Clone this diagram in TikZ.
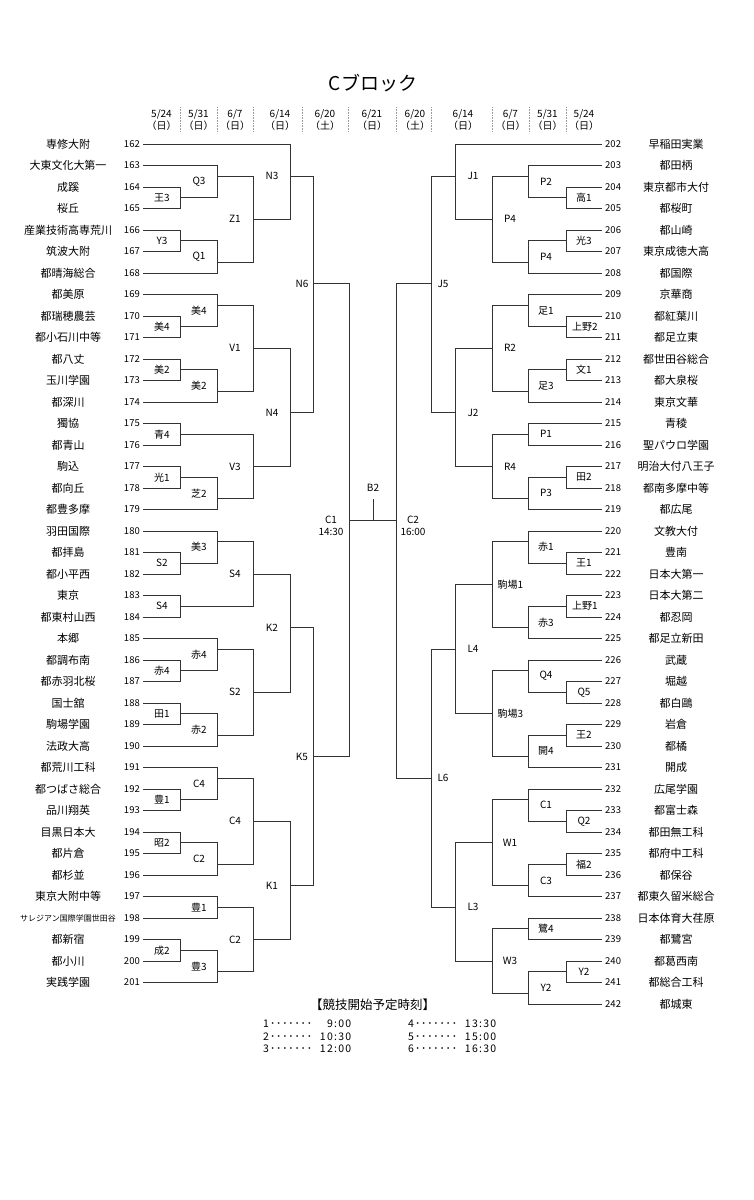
\documentclass[tikz,border=0pt]{standalone}
\usepackage{fontspec}
\setmainfont{Noto Sans CJK JP}
\usetikzlibrary{calc}
\definecolor{linegray}{HTML}{333333}
\definecolor{sepgray}{HTML}{9A9A9A}
\newcommand{\smallname}{\fontsize{8}{9}\selectfont}
\newcommand{\leaderdots}{\makebox[42pt][s]{･\hfil･\hfil･\hfil･\hfil･\hfil･\hfil･}}

\begin{document}
\begin{tikzpicture}[x=1pt, y=-1pt,
    tname/.style={font=\fontsize{11}{13}\selectfont, inner sep=0pt},
    tnum/.style={font=\fontsize{9.5}{11}\selectfont, inner sep=3pt},
    mlabel/.style={font=\fontsize{10}{12.5}\selectfont, inner sep=0pt, align=center},
    brk/.style={draw=linegray, line width=0.9pt},
    datecol/.style={font=\fontsize{10}{12}\selectfont, align=center, inner sep=0pt},
    sep/.style={draw=sepgray, densely dotted, line width=0.6pt},
    ttline/.style={font=\fontsize{10.5}{12}\selectfont\addfontfeature{LetterSpace=12}, inner sep=0pt, anchor=west},
  ]
  \useasboundingbox (0,0) rectangle (754,1200);

  % title
  \node[font=\fontsize{19}{22}\selectfont] (title) at (373,83) {Cブロック};

  % date header
  \foreach \cx/\mon/\dday/\wkd [count=\i] in {161.5/5/24/日, 198.5/5/31/日, 235/6/7/日, 280/6/14/日, 325/6/20/土, 372/6/21/日, 415/6/20/土, 463/6/14/日, 510.5/6/7/日, 547.5/5/31/日, 584/5/24/日}
    \node[datecol] (d\i) at (\cx,120) {\mon/\dday\\（\wkd）};
  \foreach \sx in {180,217,253,302,348,396,431,492,529,566}
    \draw[sep] (\sx,107) -- (\sx,132);

  % teams, left
  \foreach \tn [count=\k from 0] in {専修大附, 大東文化大第一, 成蹊, 桜丘, 産業技術高専荒川, 筑波大附, 都晴海総合, 都美原, 都瑞穂農芸, 都小石川中等, 都八丈, 玉川学園, 都深川, 獨協, 都青山, 駒込, 都向丘, 都豊多摩, 羽田国際, 都拝島, 都小平西, 東京, 都東村山西, 本郷, 都調布南, 都赤羽北桜, 国士舘, 駒場学園, 法政大高, 都荒川工科, 都つばさ総合, 品川翔英, 目黒日本大, 都片倉, 都杉並, 東京大附中等, \smallname サレジアン国際学園世田谷, 都新宿, 都小川, 実践学園} {
    \pgfmathtruncatemacro{\tid}{162+\k}
    \node[tname] (lt\tid) at (68,{144+21.5*\k}) {\tn};
    \node[tnum, anchor=east] (ln\tid) at (143,{144+21.5*\k}) {\tid};
  }

  % teams, right
  \foreach \tn [count=\k from 0] in {早稲田実業, 都田柄, 東京都市大付, 都桜町, 都山崎, 東京成徳大高, 都国際, 京華商, 都紅葉川, 都足立東, 都世田谷総合, 都大泉桜, 東京文華, 青稜, 聖パウロ学園, 明治大付八王子, 都南多摩中等, 都広尾, 文教大付, 豊南, 日本大第一, 日本大第二, 都忍岡, 都足立新田, 武蔵, 堀越, 都白鷗, 岩倉, 都橘, 開成, 広尾学園, 都富士森, 都田無工科, 都府中工科, 都保谷, 都東久留米総合, 日本体育大荏原, 都鷺宮, 都葛西南, 都総合工科, 都城東} {
    \pgfmathtruncatemacro{\tid}{202+\k}
    \node[tname] (rt\tid) at (676,{144+21.5*\k}) {\tn};
    \node[tnum, anchor=west] (rn\tid) at (602,{144+21.5*\k}) {\tid};
  }

  % matches, left
  \foreach \mname/\mx/\mrow/\ca/\cb/\mlab/\lrow/\loff in {
      mWa/180/2.5/ln164.east/ln165.east/王3/2.5/18,
      mYa/180/4.5/ln166.east/ln167.east/Y3/4.5/18,
      mMiA/180/8.5/ln170.east/ln171.east/美4/8.5/18,
      mMiB/180/10.5/ln172.east/ln173.east/美2/10.5/18,
      mAo/180/13.5/ln175.east/ln176.east/青4/13.5/18,
      mHi/180/15.5/ln177.east/ln178.east/光1/15.5/18,
      mSa/180/19.5/ln181.east/ln182.east/S2/19.5/18,
      mSb/180/21.5/ln183.east/ln184.east/S4/21.5/18,
      mAkA/180/24.5/ln186.east/ln187.east/赤4/24.5/18,
      mTa/180/26.5/ln188.east/ln189.east/田1/26.5/18,
      mToA/180/30.5/ln192.east/ln193.east/豊1/30.5/18,
      mSho/180/32.5/ln194.east/ln195.east/昭2/32.5/18,
      mSei/180/37.5/ln199.east/ln200.east/成2/37.5/18,
      mQ3/217/1.5/ln163.east/mWa/Q3/1.75/18,
      mQ1/217/5.5/mYa/ln168.east/Q1/5.25/18,
      mMiC/217/7.5/ln169.east/mMiA/美4/7.75/18,
      mMiD/217/11.5/mMiB/ln174.east/美2/11.25/18,
      mShi/217/16.5/mHi/ln179.east/芝2/16.25/18,
      mMiE/217/18.5/ln180.east/mSa/美3/18.75/18,
      mAkB/217/23.5/ln185.east/mAkA/赤4/23.75/18,
      mAkC/217/27.5/mTa/ln190.east/赤2/27.25/18,
      mCa/217/29.5/ln191.east/mToA/C4/29.75/18,
      mCb/217/33.5/mSho/ln196.east/C2/33.25/18,
      mToB/217/35.5/ln197.east/ln198.east/豊1/35.5/18,
      mToC/217/38.5/mSei/ln201.east/豊3/38.25/18,
      mZ1/253/3.5/mQ3/mQ1/Z1/3.5/18,
      mV1/253/9.5/mMiC/mMiD/V1/9.5/18,
      mV3/253/15/mAo/mShi/V3/15/18,
      mS4/253/20/mMiE/mSb/S4/20/18,
      mS2/253/25.5/mAkB/mAkC/S2/25.5/18,
      mCc/253/31.5/mCa/mCb/C4/31.5/18,
      mCd/253/37/mToB/mToC/C2/37/18,
      mN3/290/1.5/ln162.east/mZ1/N3/1.5/18,
      mN4/290/12.5/mV1/mV3/N4/12.5/18,
      mK2/290/22.5/mS4/mS2/K2/22.5/18,
      mK1/290/34.5/mCc/mCd/K1/34.5/18,
      mN6/313/6.5/mN3/mN4/N6/6.5/11,
      mK5/313/28.5/mK2/mK1/K5/28.5/11} {
    \coordinate (\mname) at (\mx,{144+21.5*\mrow});
    \draw[brk] (\ca) -- (\ca -| \mname) -- (\cb -| \mname) -- (\cb);
    \node[mlabel] (lab\mname) at ({\mx-\loff},{144+21.5*\lrow}) {\mlab};
  }

  % matches, right
  \foreach \mname/\mx/\mrow/\ca/\cb/\mlab/\lrow/\loff in {
      mKoA/566/2.5/rn204.west/rn205.west/高1/2.5/18,
      mHiR/566/4.5/rn206.west/rn207.west/光3/4.5/18,
      mUeA/566/8.5/rn210.west/rn211.west/上野2/8.5/19,
      mBun/566/10.5/rn212.west/rn213.west/文1/10.5/18,
      mDen/566/15.5/rn217.west/rn218.west/田2/15.5/18,
      mOuA/566/19.5/rn221.west/rn222.west/王1/19.5/18,
      mUeB/566/21.5/rn223.west/rn224.west/上野1/21.5/19,
      mQ5/566/25.5/rn227.west/rn228.west/Q5/25.5/18,
      mOuB/566/27.5/rn229.west/rn230.west/王2/27.5/18,
      mQ2/566/31.5/rn233.west/rn234.west/Q2/31.5/18,
      mFu/566/33.5/rn235.west/rn236.west/福2/33.5/18,
      mYb/566/38.5/rn240.west/rn241.west/Y2/38.5/18,
      mP2/528/1.5/rn203.west/mKoA/P2/1.75/18,
      mPa/528/5.5/mHiR/rn208.west/P4/5.25/18,
      mAdA/528/7.5/rn209.west/mUeA/足1/7.75/18,
      mAdB/528/11.5/mBun/rn214.west/足3/11.25/18,
      mP1/528/13.5/rn215.west/rn216.west/P1/13.5/18,
      mP3/528/16.5/mDen/rn219.west/P3/16.25/18,
      mAkR/528/18.5/rn220.west/mOuA/赤1/18.75/18,
      mAkS/528/22.5/mUeB/rn225.west/赤3/22.25/18,
      mQ4/528/24.5/rn226.west/mQ5/Q4/24.75/18,
      mKai/528/28.5/mOuB/rn231.west/開4/28.25/18,
      mCe/528/30.5/rn232.west/mQ2/C1/30.75/18,
      mCf/528/34.5/mFu/rn237.west/C3/34.25/18,
      mSag/528/36.5/rn238.west/rn239.west/鷺4/36.5/18,
      mYc/528/39.5/mYb/rn242.west/Y2/39.25/18,
      mPb/492/3.5/mP2/mPa/P4/3.5/18,
      mR2/492/9.5/mAdA/mAdB/R2/9.5/18,
      mR4/492/15/mP1/mP3/R4/15/18,
      mKmA/492/20.5/mAkR/mAkS/駒場1/20.5/18.5,
      mKmB/492/26.5/mQ4/mKai/駒場3/26.5/18.5,
      mW1/492/32.5/mCe/mCf/W1/32.5/18,
      mW3/492/38/mSag/mYc/W3/38/18,
      mJ1/455/1.5/rn202.west/mPb/J1/1.5/18,
      mJ2/455/12.5/mR2/mR4/J2/12.5/18,
      mL4/455/23.5/mKmA/mKmB/L4/23.5/18,
      mL3/455/35.5/mW1/mW3/L3/35.5/18,
      mJ5/431/6.5/mJ1/mJ2/J5/6.5/12,
      mL6/431/29.5/mL4/mL3/L6/29.5/12} {
    \coordinate (\mname) at (\mx,{144+21.5*\mrow});
    \draw[brk] (\ca) -- (\ca -| \mname) -- (\cb -| \mname) -- (\cb);
    \node[mlabel] (lab\mname) at ({\mx+\loff},{144+21.5*\lrow}) {\mlab};
  }

  % semifinals and final
  \coordinate (mC1) at (349,520.25);
  \coordinate (mC2) at (396,520.25);
  \coordinate (mB2) at (373,499);
  \draw[brk] (mN6) -- (mN6 -| mC1) -- (mK5 -| mC1) -- (mK5);
  \draw[brk] (mJ5) -- (mJ5 -| mC2) -- (mL6 -| mC2) -- (mL6);
  \draw[brk] (mC1) -- (mC2);
  \draw[brk] (mB2) -- (mB2 |- mC1);
  \node[mlabel] (labB2) at (373,488) {B2};
  \node[mlabel] (labC1) at (331,526) {C1\\14:30};
  \node[mlabel] (labC2) at (413,526) {C2\\16:00};

  % start times
  \node[font=\fontsize{12.5}{14}\selectfont, inner sep=0pt] (tthead) at (372.5,1005) {【競技開始予定時刻】};
  \foreach \tx/\ty/\tk/\ttime in {263/1024/1/\ 9:00, 263/1037/2/10:30, 263/1049/3/12:00, 408/1024/4/13:30, 408/1037/5/15:00, 408/1049/6/16:30}
    \node[ttline] (tt\tk) at (\tx,\ty) {\makebox[88pt][l]{\tk\hspace{1pt}\leaderdots\hfill\ttime}};
\end{tikzpicture}
\end{document}
